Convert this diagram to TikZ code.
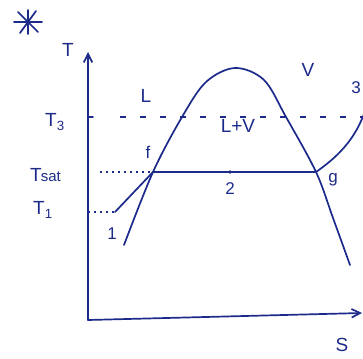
\documentclass[tikz,border=0pt]{standalone}
\usepackage{fontspec}
\setmainfont{Liberation Sans}
\usetikzlibrary{arrows.meta, positioning, calc}
\definecolor{ink}{HTML}{1C2A8A}

\begin{document}
\begin{tikzpicture}[
  x=1pt, y=-1pt,
  >={Straight Barb[length=3mm, width=3mm]},
  pen/.style={draw=ink, line width=1.7pt, line cap=round, line join=round},
  lbl/.style={text=ink, font=\fontsize{19}{22}\selectfont, inner sep=1pt},
  smalllbl/.style={text=ink, font=\fontsize{17}{20}\selectfont, inner sep=1pt},
  guide/.style={draw=ink, line width=1.5pt, dash pattern=on 6pt off 14pt},
  dotted guide/.style={draw=ink, line width=1.5pt, dash pattern=on 2pt off 4pt},
]

% Background / page size
\useasboundingbox (0,0) rectangle (363,358);
\clip (0,0) rectangle (363,358);

% =============================================
% Asterisk
% =============================================
\draw[pen] (14,22) -- (42,22);
\draw[pen] (18,12) -- (38,32);
\draw[pen] (20,33) -- (36,11);
\draw[pen] (28,10) -- (28,34);

% =============================================
% Axes
% =============================================
\coordinate (origin) at (88,320);
\coordinate (ttop) at (88,52);
\coordinate (send) at (362,313);
\draw[pen, ->] (origin) -- (ttop);
\draw[pen, ->] (origin) -- (send);
\node[lbl] (tlab) at (68,50) {T};
\node[lbl] (slab) at (342,345) {S};

% =============================================
% Temperature levels
% =============================================
\coordinate (t3ax) at (88,117);
\coordinate (t3end) at (363,117);
\draw[pen] (t3ax) -- ++(5,0);
\draw[guide] ($(t3ax)+(32,0)$) -- (t3end);
\node[lbl] (t3lab) at (55,122) {T\textsubscript{3}};

\coordinate (f) at (153,172);
\coordinate (g) at (316,172);
\node[lbl, anchor=east] (tsatlab) at (62,175) {T\kern-1pt{\fontsize{15}{18}\selectfont sat}};
\draw[dotted guide] (100,172) -- (f);

\coordinate (one) at (115,212);
\node[lbl] (t1lab) at (43,210) {T\textsubscript{1}};
\draw[dotted guide] (origin |- one) -- (one);

% =============================================
% Saturation dome
% =============================================
\draw[pen] plot[smooth, tension=0.55] coordinates
  {(124,245) (f) (182,117) (206,82) (235,68) (264,80) (286,117) (g) (333,218) (350,265)};

% Process line 1 -> f -> g -> 3
\draw[pen] (one) -- (f);
\draw[pen] (f) -- (g);
\fill[ink] (230,172) circle (1.8pt);
\draw[pen] (g) .. controls (336,158) and (356,140) .. (366,108);

% =============================================
% Labels
% =============================================
\node[lbl] (llab) at (146,96) {L};
\node[lbl] (vlab) at (308,70) {V};
\node[lbl] (lvlab) at (238,126) {L+V};
\node[smalllbl] (flab) at (148,152) {f};
\node[smalllbl] (glab) at (333,180) {g};
\node[smalllbl] (onelab) at (112,234) {1};
\node[smalllbl] (twolab) at (230,189) {2};
\node[smalllbl] (threelab) at (356,88) {3};

\end{tikzpicture}
\end{document}
